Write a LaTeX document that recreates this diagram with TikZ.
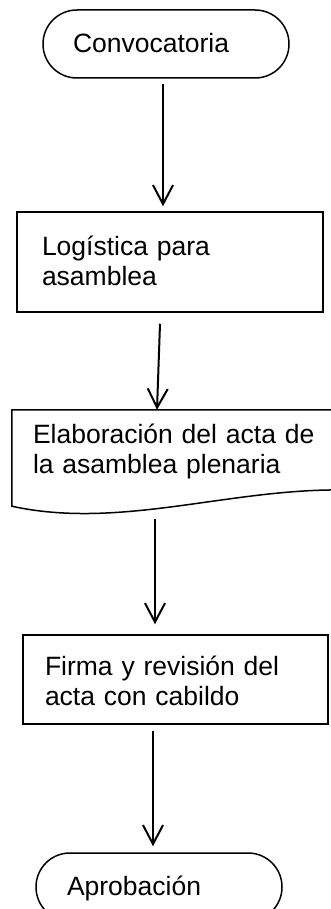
\documentclass[tikz,border=0pt]{standalone}
\usepackage{fontspec}
\setmainfont{Liberation Sans}
\usetikzlibrary{arrows.meta}
\newcommand\topstrut[1]{\rule{0pt}{#1}}
\newcommand\botstrut[1]{\rule[-#1]{0pt}{#1}}
\begin{document}
\begin{tikzpicture}[x=1pt,y=-1pt,
  txt/.style={font={\fontsize{26.5pt}{30pt}\selectfont}, align=left, inner sep=0pt},
  termbox/.style={txt, draw, line width=1.5pt, rectangle, rounded corners=33.9pt, minimum height=68pt},
  procbox/.style={txt, draw, line width=1.5pt, rectangle},
  arr/.style={line width=2pt, -{Straight Barb[length=19pt,width=20pt,line width=2pt]}},
  docline/.style={line width=1.5pt, line join=miter}]
\useasboundingbox (0,0) rectangle (331,909);

\node[termbox, minimum width=246pt, text width=186pt] (conv) at (166,44)
  {\rule[-2pt]{0pt}{22pt}Convocatoria};

\node[procbox, minimum width=306pt, minimum height=100pt, text width=256pt] (logi) at (170,262)
  {\topstrut{24pt}Logística para\\asamblea\botstrut{8pt}};

\node[txt, minimum width=333pt, minimum height=96pt, text width=291pt] (doc) at (178.5,458)
  {\topstrut{25pt}Elaboración del acta de\\la asamblea plenaria\botstrut{24pt}};
\draw[docline] (doc.south west) -- (doc.north west) -- (doc.north east) -- (345,490)
  .. controls (230,488) and (120,530) .. (doc.south west) -- cycle;

\node[procbox, minimum width=305pt, minimum height=89pt, text width=261pt] (firm) at (175.5,679.5)
  {\topstrut{24pt}Firma y revisión del\\acta con cabildo\botstrut{3pt}};

\node[termbox, minimum width=246pt, text width=184pt] (apro) at (159,887)
  {\rule[-8pt]{0pt}{32pt}Aprobación};

\draw[arr] ([xshift=-3pt,yshift=-5pt]conv.south) -- ([xshift=-7pt,yshift=5pt]logi.north);
\draw[arr] ([xshift=-10pt,yshift=-11pt]logi.south) -- ([xshift=-21.5pt]doc.north);
\draw[arr] ([xshift=-23.5pt,yshift=-13pt]doc.south) -- ([xshift=-20.5pt,yshift=10pt]firm.north);
\draw[arr] ([xshift=-22.5pt,yshift=-6pt]firm.south) -- ([xshift=-6pt,yshift=6pt]apro.north);
\end{tikzpicture}
\end{document}
